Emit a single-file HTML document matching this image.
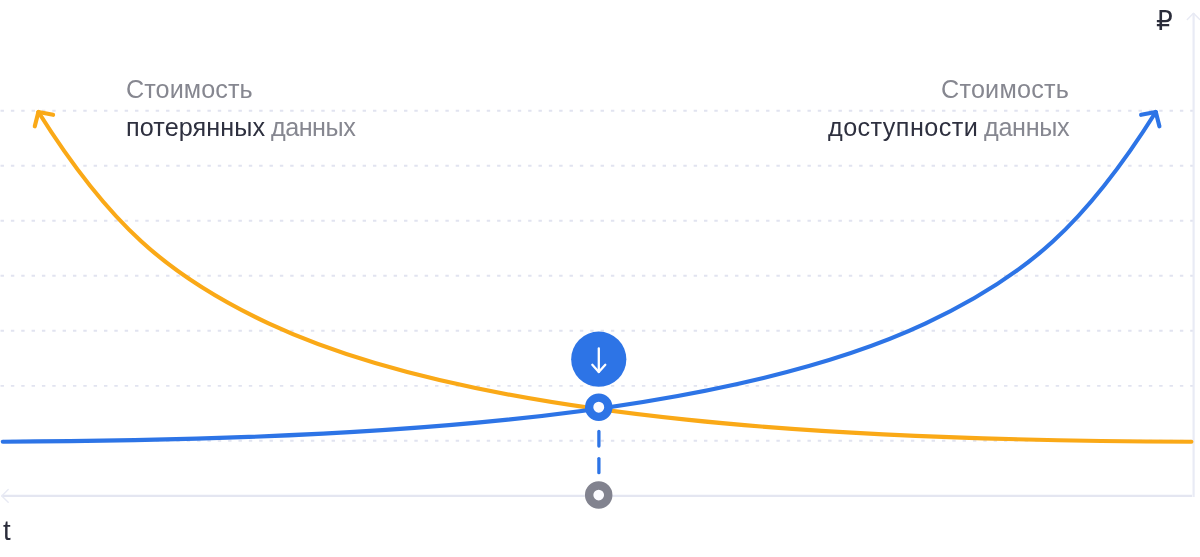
<!DOCTYPE html>
<html lang="ru">
<head>
<meta charset="utf-8">
<title>Стоимость потерянных данных и доступности данных</title>
<style>
html,body{margin:0;padding:0;background:#fff;}
body{width:1200px;height:557px;overflow:hidden;position:relative;font-family:"Liberation Sans","DejaVu Sans",sans-serif;}
svg{position:absolute;left:0;top:0;display:block;}
.w,#rub,#tt{will-change:transform;}
.w{position:absolute;font-size:25.2px;line-height:37.2px;color:#868790;white-space:nowrap;}
.w.d{color:#2e303f;}
#w1{left:126.2px;top:70.7px;letter-spacing:0.08px;}
#w2{left:126.2px;top:108.9px;letter-spacing:0.1px;}
#w3{left:271.2px;top:108.9px;letter-spacing:-0.5px;}
#w4{left:941.4px;top:70.7px;letter-spacing:0.22px;}
#w5{left:828.3px;top:108.9px;letter-spacing:0.43px;}
#w6{left:983.9px;top:108.9px;letter-spacing:-0.32px;}
#rub{position:absolute;left:1155.7px;top:4.5px;font-family:"DejaVu Sans",sans-serif;font-size:26.4px;line-height:32px;color:#2a2c3a;}
#tt{position:absolute;left:3.2px;top:514.6px;font-size:27.6px;line-height:32px;color:#2a2c3a;}
</style>
</head>
<body>
<svg width="1200" height="557" viewBox="0 0 1200 557" fill="none">
  <!-- grid -->
  <g stroke="#e1e3f0" stroke-width="1.9" stroke-dasharray="3.4 6.945">
    <path d="M0.55 110.8H1193"/>
    <path d="M0.55 165.7H1193"/>
    <path d="M0.55 220.7H1193"/>
    <path d="M0.55 275.8H1193"/>
    <path d="M0.55 330.8H1193"/>
    <path d="M0.55 385.9H1193"/>
    <path d="M0.55 440.8H1193"/>
  </g>
  <!-- axes -->
  <path d="M1.5 495.9H1192" stroke="#e4e6f1" stroke-width="2.07"/>
  <path d="M1193.6 13V497" stroke="#e9ebf5" stroke-width="2.2"/>
  <g stroke="#e8eaf4" stroke-width="1.4" stroke-linecap="round" stroke-linejoin="round">
    <path d="M1187.3 19.4L1193.5 13.2L1199.7 19.4"/>
    <path d="M8.2 489.5L1.8 495.9L8.2 502.3"/>
  </g>
  <!-- orange curve -->
  <g stroke="#faa917" stroke-width="4.14" stroke-linecap="round" stroke-linejoin="round">
    <path id="oc" d="M38.40 112.00C108.27 223.35 166.53 275.58 268.50 323.40C481.98 423.52 861.85 440.58 1191.40 441.70"/>
    <path d="M34.8 126.3L38.4 112L53.1 114.8"/>
  </g>
  <!-- blue curve -->
  <g stroke="#2d74e6" stroke-width="4.14" stroke-linecap="round" stroke-linejoin="round">
    <path id="bc" transform="translate(1194.2 0) scale(-1 1)" d="M38.40 112.00C108.27 223.35 166.53 275.58 268.50 323.40C481.98 423.52 861.85 440.58 1191.40 441.70"/>
    <path d="M1159.4 126.3L1155.8 112L1141.1 114.8"/>
  </g>
  <!-- dashed vertical -->
  <g stroke="#2d74e6" stroke-width="3.3" stroke-linecap="round">
    <path d="M598.9 431.5V446"/>
    <path d="M598.9 458.6V472.7"/>
  </g>
  <!-- big circle with arrow -->
  <circle cx="598.75" cy="359.2" r="27.6" fill="#2d74e6"/>
  <g stroke="#fff" stroke-width="2.3" stroke-linecap="round" stroke-linejoin="round">
    <path d="M598.8 348.4V372"/>
    <path d="M592.3 364.8L598.8 372L605.3 364.8"/>
  </g>
  <!-- rings -->
  <circle cx="598.75" cy="407.2" r="9.6" fill="#fbfbff" stroke="#2d74e6" stroke-width="8.3"/>
  <circle cx="598.7" cy="495.05" r="9.55" fill="#fbfbff" stroke="#82838f" stroke-width="8.4"/>
</svg>
<div class="w" id="w1">Стоимость</div>
<div class="w d" id="w2">потерянных</div>
<div class="w" id="w3">данных</div>
<div class="w" id="w4">Стоимость</div>
<div class="w d" id="w5">доступности</div>
<div class="w" id="w6">данных</div>
<div id="rub">₽</div>
<div id="tt">t</div>
</body>
</html>
